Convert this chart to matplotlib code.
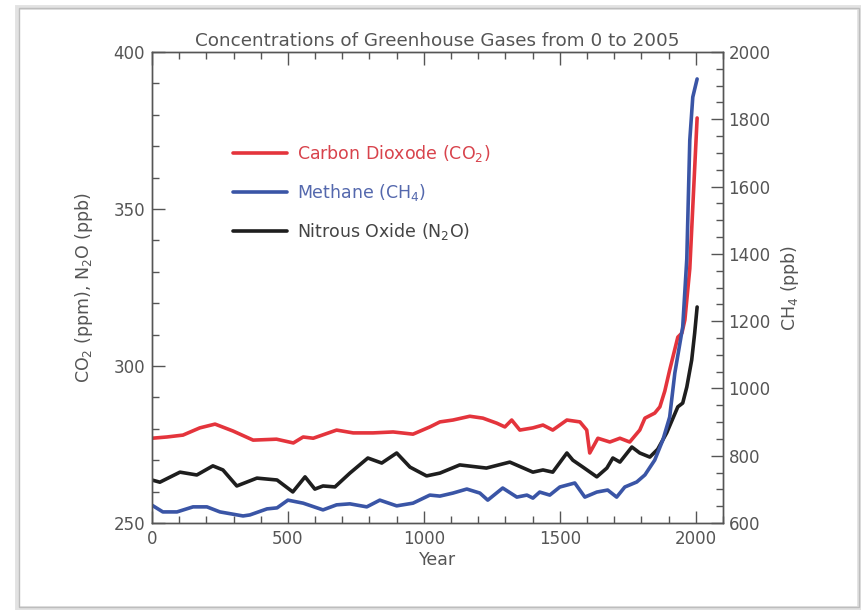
import matplotlib
matplotlib.use("Agg")
import matplotlib.pyplot as plt
from matplotlib.patches import Rectangle
from matplotlib.ticker import MultipleLocator

# CO2 (ppm)
co2_year = [0, 55, 114, 176, 232, 298, 372, 458, 520, 556, 593, 679, 740, 813,
            887, 960, 1022, 1059, 1107, 1169, 1217, 1268, 1298, 1323, 1353, 1401,
            1438, 1474, 1526, 1574, 1599, 1610, 1640, 1684, 1721, 1757, 1794, 1813,
            1849, 1868, 1886, 1904, 1934, 1949, 1960, 1978, 1989, 2005]
co2_ppm = [277.0, 277.4, 278.0, 280.3, 281.5, 279.3, 276.4, 276.7, 275.5, 277.4,
           277.0, 279.6, 278.7, 278.7, 279.0, 278.3, 280.6, 282.2, 282.8, 284.0,
           283.4, 281.8, 280.6, 282.8, 279.6, 280.3, 281.2, 279.6, 282.8, 282.2,
           279.6, 272.3, 277.0, 275.8, 277.0, 275.8, 279.6, 283.4, 285.0, 287.0,
           292.0, 298.7, 309.2, 310.5, 314.7, 331.0, 350.6, 379.0]

# CH4 (ppb)
ch4_year = [0, 40, 92, 151, 202, 250, 335, 360, 423, 460, 500, 556, 629, 679,
            728, 790, 838, 900, 960, 1022, 1059, 1107, 1158, 1206, 1235, 1290,
            1342, 1379, 1401, 1426, 1463, 1500, 1555, 1592, 1636, 1676, 1709, 1739,
            1783, 1813, 1849, 1879, 1904, 1923, 1952, 1967, 1978, 1989, 2005]
ch4_ppb = [653, 633, 633, 648, 648, 633, 621, 624, 642, 645, 668, 659, 639, 654,
           657, 648, 668, 651, 659, 683, 680, 689, 701, 689, 668, 704, 677, 683,
           674, 692, 683, 707, 719, 677, 692, 698, 677, 707, 722, 743, 787, 847,
           915, 1046, 1183, 1385, 1738, 1866, 1920]

# N2O (ppb)
n2o_year = [0, 29, 103, 165, 224, 261, 312, 386, 460, 518, 563, 599, 629, 673,
            728, 794, 845, 900, 949, 1010, 1059, 1132, 1230, 1316, 1401, 1438, 1474,
            1526, 1548, 1585, 1636, 1673, 1695, 1721, 1765, 1794, 1831, 1860, 1893,
            1934, 1952, 1967, 1985, 1996, 2005]
n2o_ppb = [263.7, 263.0, 266.2, 265.3, 268.2, 266.9, 261.8, 264.3, 263.7, 259.9,
           264.7, 260.8, 261.8, 261.5, 265.9, 270.7, 269.1, 272.3, 267.8, 265.0,
           265.9, 268.5, 267.5, 269.4, 266.2, 266.9, 266.2, 272.3, 270.0, 267.8,
           264.7, 267.5, 270.7, 269.4, 274.2, 272.3, 271.0, 273.5, 278.7, 287.0,
           288.2, 293.3, 301.9, 310.5, 318.8]

labels = ["Carbon Dioxode (CO$_2$)", "Methane (CH$_4$)", "Nitrous Oxide (N$_2$O)"]
line_colors = ["#e4343c", "#3a55a6", "#1e1e1e"]
text_colors = ["#d8434c", "#5468ad", "#444444"]
grey = "#555555"

plt.rcParams["font.family"] = "DejaVu Sans"
plt.rcParams["mathtext.fontset"] = "dejavusans"

fig = plt.figure(figsize=(8.62, 6.10), dpi=100)
fig.patch.set_facecolor("white")

# picture frame with a soft shadow
fig.patches.append(Rectangle((0.020, 0.004), 0.977, 0.984, transform=fig.transFigure,
                             fill=False, edgecolor="#e2e2e2", linewidth=3.5))
fig.patches.append(Rectangle((0.022, 0.005), 0.975, 0.982, transform=fig.transFigure,
                             fill=False, edgecolor="#bdbdbd", linewidth=1.0))

ax = fig.add_axes([0.1763, 0.1426, 0.6624, 0.7721])
ax2 = ax.twinx()

kw = dict(lw=2.6, solid_joinstyle="round", solid_capstyle="round")
l1, = ax.plot(co2_year, co2_ppm, color=line_colors[0], **kw)
l3, = ax.plot(n2o_year, n2o_ppb, color=line_colors[2], **kw)
l2, = ax2.plot(ch4_year, ch4_ppb, color=line_colors[1], **kw)

ax.set_xlim(0, 2100)
ax.set_ylim(250, 400)
ax2.set_ylim(600, 2000)

ax.xaxis.set_major_locator(MultipleLocator(500))
ax.xaxis.set_minor_locator(MultipleLocator(100))
ax.yaxis.set_major_locator(MultipleLocator(50))
ax.yaxis.set_minor_locator(MultipleLocator(10))
ax2.yaxis.set_major_locator(MultipleLocator(200))
ax2.yaxis.set_minor_locator(MultipleLocator(50))

for a in (ax, ax2):
    for s in a.spines.values():
        s.set_color(grey)
        s.set_linewidth(1.0)
ax.tick_params(which="both", direction="in", colors=grey, labelcolor=grey,
               labelsize=12, top=True, right=False)
ax.tick_params(which="major", length=9, width=1.0, pad=5)
ax.tick_params(which="minor", length=5, width=1.0)
ax2.tick_params(which="both", direction="in", colors=grey, labelcolor=grey,
                labelsize=12)
ax2.tick_params(which="major", length=9, width=1.0, pad=4)
ax2.tick_params(which="minor", length=5, width=1.0)

ax.set_title("Concentrations of Greenhouse Gases from 0 to 2005",
             fontsize=13.2, color=grey, pad=4)
ax.set_xlabel("Year", fontsize=12.5, color=grey, labelpad=2)
ax.set_ylabel("CO$_2$ (ppm), N$_2$O (ppb)", fontsize=12.5, color=grey, labelpad=13)
ax2.set_ylabel("CH$_4$ (ppb)", fontsize=12.5, color=grey, labelpad=6)

leg = ax2.legend([l1, l2, l3], labels, loc="upper left",
                 bbox_to_anchor=(0.115, 0.84), frameon=False, fontsize=12.5,
                 handlelength=3.1, handletextpad=0.55, labelspacing=1.05)
for txt, c in zip(leg.get_texts(), text_colors):
    txt.set_color(c)

fig.savefig("out.png", dpi=100)
